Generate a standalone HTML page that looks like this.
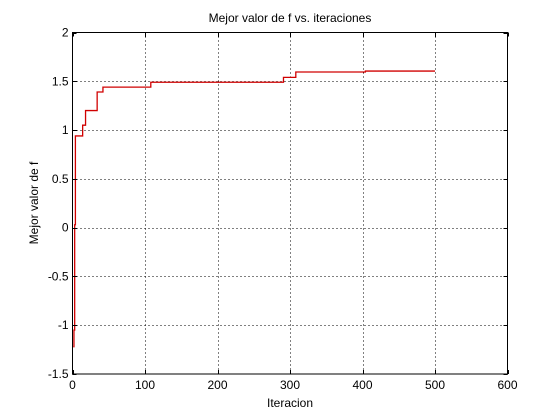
<!DOCTYPE html>
<html><head><meta charset="utf-8"><style>
body{margin:0;background:#fff;}
svg{display:block;font-family:"Liberation Sans",sans-serif;}
</style></head><body>
<svg id="chart" width="560" height="420" xmlns="http://www.w3.org/2000/svg">
<rect width="560" height="420" fill="#fff"/>
<g id="grid" shape-rendering="crispEdges"></g>
<g id="series"></g>
<rect x="72.5" y="32.5" width="435" height="341.5" fill="none" stroke="#000" stroke-width="1" shape-rendering="crispEdges"/>
<g id="ticks" font-size="12" shape-rendering="crispEdges"></g>
<text x="290" y="22" font-size="12" text-anchor="middle">Mejor valor de f vs. iteraciones</text>
<text x="290" y="407" font-size="12" text-anchor="middle">Iteracion</text>
<text x="38" y="203" font-size="12" text-anchor="middle" transform="rotate(-90 38 203)">Mejor valor de f</text>
</svg>
<script>
const xTicks=[0,100,200,300,400,500,600];
const yTicks=[-1.5,-1,-0.5,0,0.5,1,1.5,2];
const yTickLabels=["-1.5","-1","-0.5","0","0.5","1","1.5","2"];
const iters=[1,2,3,4,14,18,34,42,108,291,308,404,500];
const bestVals=[-1.22,-1.05,0.03,0.94,1.05,1.2,1.39,1.44,1.49,1.54,1.595,1.605,1.605];
const L=72.5,R=507.5,T=32.5,B=374;
const sx=v=>L+(v-0)/(600-0)*(R-L);
const sy=v=>B-(v+1.5)/(2+1.5)*(B-T);
const NS="http://www.w3.org/2000/svg";
const grid=document.getElementById('grid'),ticks=document.getElementById('ticks'),series=document.getElementById('series');
function mk(tag,attrs,parent){const e=document.createElementNS(NS,tag);for(const k in attrs)e.setAttribute(k,attrs[k]);parent.appendChild(e);return e;}
xTicks.forEach((v,i)=>{
  const x=Math.round(sx(v))+0.5;
  if(i>0&&i<xTicks.length-1){const g=mk('line',{x1:x,x2:x,y1:T,y2:B,stroke:'#000','stroke-dasharray':'1,3'},grid);
  
  }
  const t=mk('line',{x1:x,x2:x,y1:B,y2:B-4,stroke:'#000'},ticks);
  
  
  const tt=mk('line',{x1:x,x2:x,y1:T,y2:T+4,stroke:'#000'},ticks);
  
  
  const l=mk('text',{x:sx(v),y:B+15,'text-anchor':'middle'},ticks);l.textContent=String(v);
  
  
});
yTicks.forEach((v,i)=>{
  const y=Math.round(sy(v))+0.5;
  if(i>0&&i<yTicks.length-1){const g=mk('line',{x1:L,x2:R,y1:y,y2:y,stroke:'#000','stroke-dasharray':'1,3'},grid);
  
  }
  const t=mk('line',{x1:L,x2:L+4,y1:y,y2:y,stroke:'#000'},ticks);
  
  
  const tr=mk('line',{x1:R,x2:R-4,y1:y,y2:y,stroke:'#000'},ticks);
  
  
  const l=mk('text',{x:L-4,y:sy(v)+4,'text-anchor':'end'},ticks);l.textContent=yTickLabels[i];
  
  
});
let d='';
iters.forEach((it,i)=>{
  const x=sx(it),y=sy(bestVals[i]);
  if(i===0)d+='M'+x+','+y;
  else d+='H'+x+'V'+y;
});
d+='H'+sx(iters[iters.length-1]);
const p=mk('path',{d:d,fill:'none',stroke:'#d00000','stroke-width':1.3},series);


</script>
</body></html>
